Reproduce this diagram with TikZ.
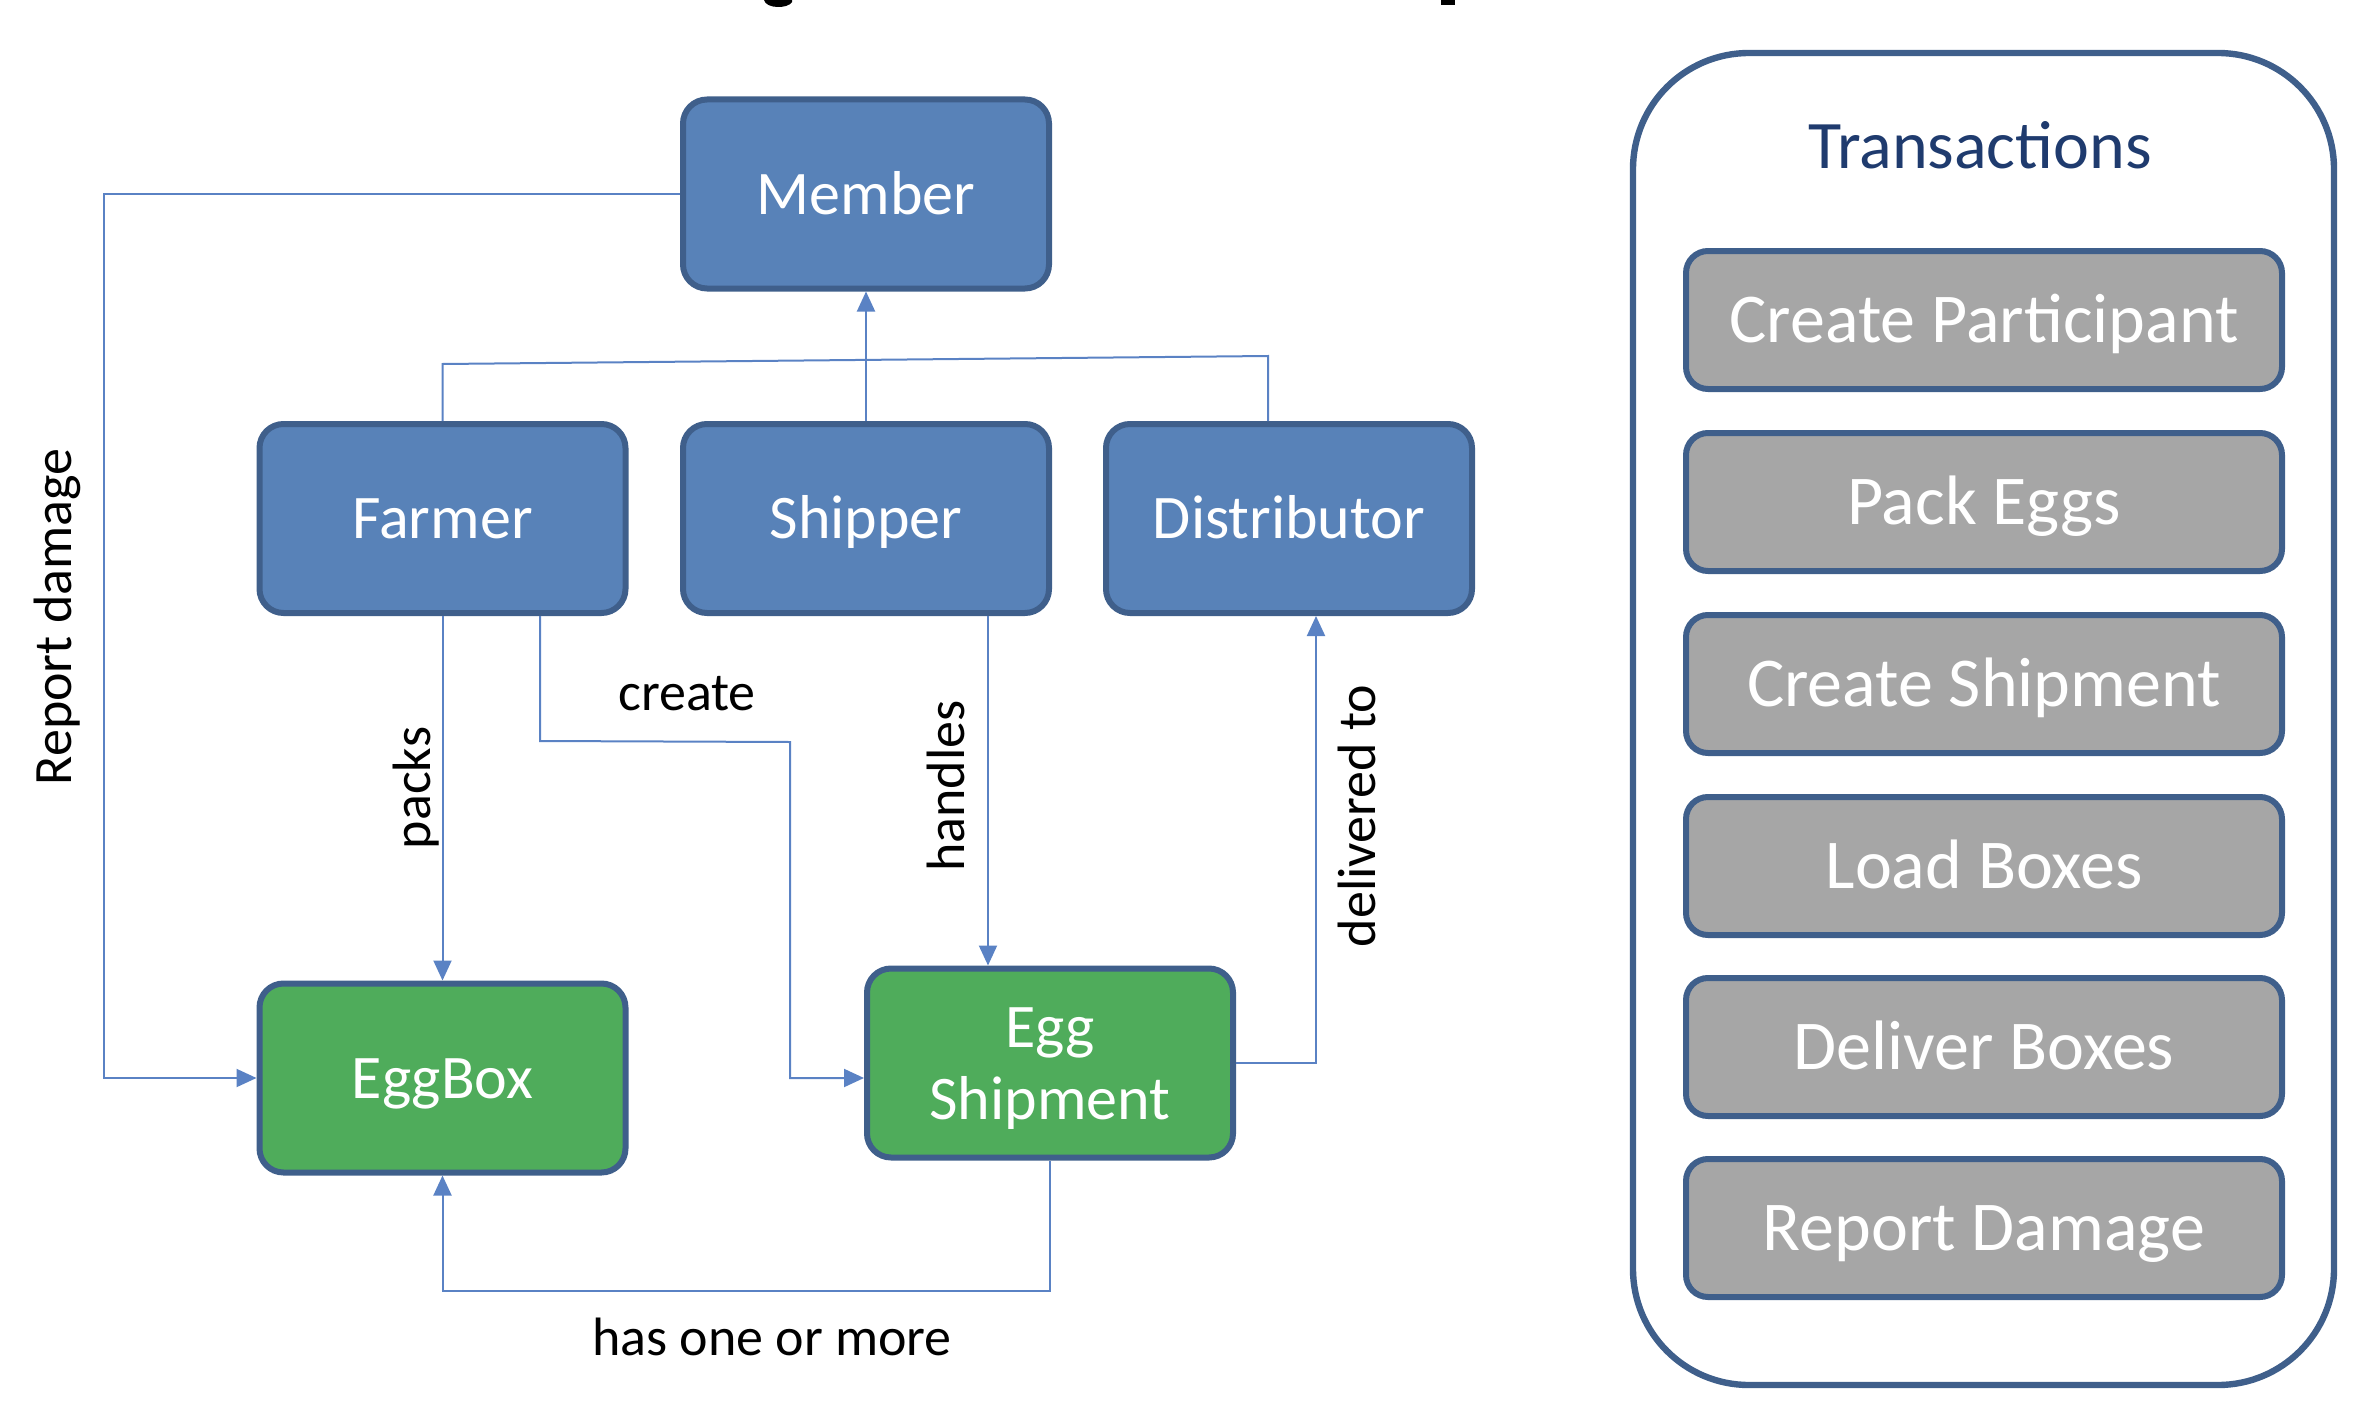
\documentclass[tikz,border=0pt]{standalone}
\usepackage{fontspec}
\setmainfont{Carlito}
\usetikzlibrary{arrows.meta}
\definecolor{entfill}{HTML}{5882B8}
\definecolor{entdraw}{HTML}{3F5F8B}
\definecolor{assetfill}{HTML}{4FAC5B}
\definecolor{txfill}{HTML}{A6A6A6}
\definecolor{linkcol}{HTML}{5A82C4}
\definecolor{titlecol}{HTML}{1F3B6E}
\begin{document}
\begin{tikzpicture}[x=0.5pt,y=-0.5pt,
 entity/.style={draw=entdraw, line width=3pt, fill=entfill, rounded corners=12pt,
   minimum width=183pt, minimum height=94.5pt, inner sep=0pt, text=white,
   font=\fontsize{31}{36}\selectfont, text height=20pt, text depth=0pt, align=center},
 asset/.style={entity, fill=assetfill},
 txbox/.style={draw=entdraw, line width=3pt, fill=txfill, rounded corners=11pt,
   minimum width=298pt, minimum height=69pt, inner sep=0pt, text=white,
   font=\fontsize{35}{42}\selectfont, text height=22.5pt, text depth=0pt},
 panel/.style={draw=entdraw, line width=3.2pt, rounded corners=58pt,
   minimum width=350.5pt, minimum height=666pt, inner sep=0pt},
 link/.style={draw=linkcol, line width=1pt},
 arr/.style={link, -{Triangle[length=10pt,width=9pt]}},
 lbl/.style={font=\fontsize{27}{32}\selectfont, inner sep=0pt, text=black}
]
\useasboundingbox (0,0) rectangle (2362,1418);

% fragments of the cut-off title
\fill[black] (764,0) .. controls (766,9) and (788,9) .. (792,2) -- (792,0) -- cycle;
\fill[black] (1441,0) rectangle (1455,5);

% entities
\node[entity] (member) at (866,194) {Member};
\node[entity] (farmer) at (442.5,518.5) {Farmer};
\node[entity] (shipper) at (866,518.5) {Shipper};
\node[entity] (distributor) at (1289,518.5) {Distributor};
\node[asset] (eggbox) at (442.5,1078) {EggBox};
\node[asset, text height=56pt, text depth=0pt] (egship) at (1050,1063) {Egg\\Shipment};

% inheritance
\draw[arr] (shipper.north) -- (member.south);
\draw[link] (farmer.north) -- ++(0,-57) -- (1268,356) -- ([xshift=-10.5pt]distributor.north);

% relations
\draw[arr] (member.west) -- (104,194) -- (104,1078) -- (eggbox.west);
\draw[arr] (farmer.south) -- (eggbox.north);
\draw[arr] ([xshift=48.75pt]farmer.south) -- ++(0,125) -- (790,742) -- (790,1078) -- (egship.west |- eggbox.west);
\draw[arr] ([xshift=61pt]shipper.south) -- ([xshift=61pt]shipper.south |- egship.north);
\draw[arr] (egship.east) -| ([xshift=13.5pt]distributor.south);
\draw[arr] (egship.south) -- ++(0,130) -| (eggbox.south);

% labels
\node[lbl, rotate=90] (lreport) at (57,617) {Report damage};
\node[lbl, rotate=90] (lpacks) at (416,788) {packs};
\node[lbl] (lcreate) at (687,694) {create};
\node[lbl, rotate=90] (lhandles) at (946,786) {handles};
\node[lbl, rotate=90] (ldelivered) at (1357,816) {delivered to};
\node[lbl] (lhas) at (772,1337) {has one or more};

% transactions panel
\node[panel] (txpanel) at (1983.5,719) {};
\node[anchor=base, text=titlecol, font=\fontsize{34}{40}\selectfont, inner sep=0pt] (txtitle) at (1980,169) {Transactions};
\node[txbox] (tx1) at (1984,320) {Create Participant};
\node[txbox] (tx2) at (1984,502) {Pack Eggs};
\node[txbox] (tx3) at (1984,684) {Create Shipment};
\node[txbox] (tx4) at (1984,866) {Load Boxes};
\node[txbox] (tx5) at (1984,1047) {Deliver Boxes};
\node[txbox] (tx6) at (1984,1228) {Report Damage};
\end{tikzpicture}
\end{document}
